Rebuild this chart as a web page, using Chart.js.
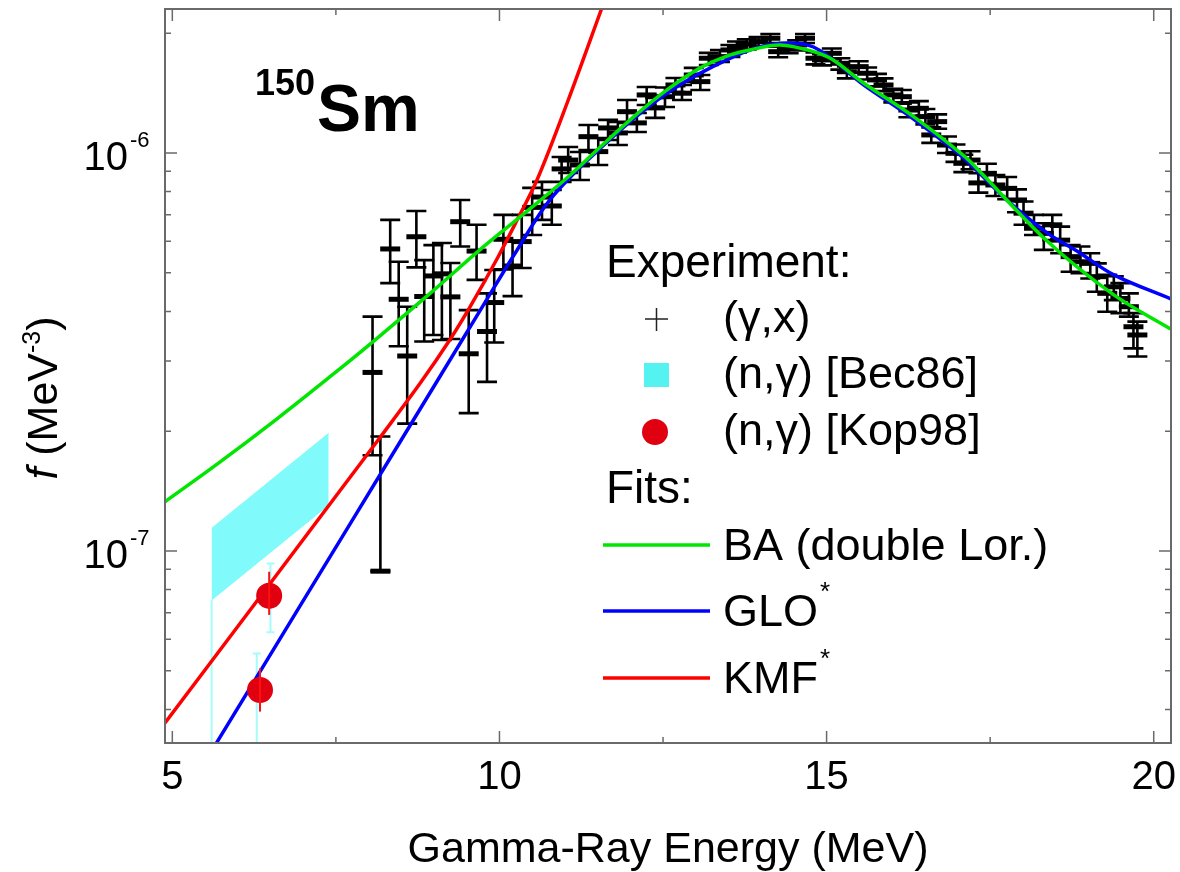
<!DOCTYPE html>
<html>
<head>
<meta charset="utf-8">
<script src="https://cdn.jsdelivr.net/npm/chart.js@4.4.1/dist/chart.umd.min.js"></script>
<style>
  html, body { margin: 0; padding: 0; background: #fff; }
  #wrap { width: 1180px; height: 872px; }
</style>
</head>
<body>
<div id="wrap"><canvas id="chart" width="1180" height="872"></canvas></div>
<script>
// ===== DATOS (f en unidades de 1e-7 MeV^-3) =====
const UNIT = 1e-7;
const xMin = 4.888, xMax = 20.264;
const yMin = 0.3294, yMax = 23.0;
const xTicks = [5, 10, 15, 20];
const xMinorTicks = [7.5, 12.5, 17.5];
const yTickExps = [-7, -6];

// (gamma,x) experiment
const gxE = [8.06, 8.18, 8.33, 8.46, 8.59, 8.73, 8.85, 8.99, 9.12, 9.25,
  9.40, 9.53, 9.65, 9.81, 9.92, 10.06, 10.20, 10.34, 10.50, 10.65,
  10.80, 10.95, 11.05, 11.23, 11.36, 11.51, 11.66, 11.81, 11.95, 12.10,
  12.25, 12.38, 12.53, 12.69, 12.79, 12.97, 13.07, 13.20, 13.37, 13.53,
  13.63, 13.78, 13.96, 14.14, 14.26, 14.42, 14.55, 14.67, 14.83, 14.93,
  15.08, 15.21, 15.31, 15.49, 15.62, 15.77, 15.87, 16.02, 16.15, 16.25,
  16.41, 16.51, 16.60, 16.69, 16.84, 16.97, 17.09, 17.20, 17.32, 17.45,
  17.58, 17.76, 17.91, 18.01, 18.17, 18.32, 18.45, 18.57, 18.73, 18.88,
  19.03, 19.13, 19.29, 19.39, 19.49, 19.62, 19.69, 19.75];
const gxF = [2.81, 0.89, 5.74, 4.29, 3.09, 6.16, 4.36, 4.91, 4.97, 4.35,
  6.72, 3.13, 5.67, 3.56, 4.21, 6.07, 5.20, 5.99, 7.30, 7.75,
  7.36, 9.12, 9.60, 9.33, 10.99, 10.08, 11.56, 11.23, 12.70, 11.90,
  13.99, 12.98, 13.85, 14.82, 14.13, 15.70, 15.11, 17.30, 17.46, 18.15,
  18.50, 18.79, 19.04, 19.42, 17.97, 18.33, 18.68, 19.42, 17.30, 17.13,
  17.80, 16.80, 16.00, 16.48, 15.86, 15.26, 14.82, 13.99, 13.85, 12.82,
  12.95, 12.34, 11.10, 11.99, 10.47, 9.98, 9.42, 9.60, 8.41, 8.89,
  8.31, 8.15, 7.62, 7.06, 6.47, 6.28, 6.60, 6.04, 5.49, 5.33,
  5.28, 4.89, 4.44, 4.61, 4.31, 4.11, 3.66, 3.49];
const gxLo = [1.74, 0.89, 4.71, 3.27, 2.09, 5.16, 3.36, 3.49, 3.39, 3.41,
  5.82, 2.22, 4.80, 2.66, 3.34, 5.10, 4.37, 5.14, 6.22, 6.79,
  6.60, 8.46, 8.91, 8.55, 10.17, 9.33, 10.78, 10.47, 11.90, 11.29,
  13.20, 12.25, 13.05, 14.23, 13.59, 15.08, 14.40, 16.64, 16.93, 17.42,
  17.90, 18.20, 18.50, 18.90, 17.40, 17.80, 18.10, 18.90, 16.70, 16.60,
  17.20, 16.20, 15.40, 15.90, 15.30, 14.70, 14.30, 13.40, 13.30, 12.30,
  12.40, 11.80, 10.60, 11.50, 10.00, 9.50, 8.95, 9.10, 7.95, 8.40,
  7.80, 7.65, 7.10, 6.60, 6.22, 5.71, 6.04, 5.60, 5.03, 4.99,
  4.84, 4.48, 3.99, 4.27, 3.96, 3.88, 3.23, 3.08];
const gxHi = [3.88, 1.94, 6.79, 5.33, 4.11, 7.15, 5.38, 5.87, 5.94, 5.29,
  7.62, 4.03, 6.60, 4.44, 5.08, 6.99, 5.99, 6.99, 8.17, 8.46,
  8.07, 9.77, 10.35, 10.06, 11.76, 10.91, 12.11, 11.97, 13.59, 12.60,
  14.65, 13.75, 14.60, 15.43, 14.82, 16.36, 15.70, 17.84, 18.15, 18.68,
  19.05, 19.30, 19.55, 19.90, 18.50, 18.90, 19.20, 19.90, 17.90, 17.70,
  18.30, 17.30, 16.50, 17.00, 16.40, 15.80, 15.40, 14.50, 14.40, 13.40,
  13.50, 12.90, 11.60, 12.50, 11.00, 10.50, 9.90, 10.10, 8.90, 9.40,
  8.80, 8.70, 8.10, 7.55, 6.99, 6.66, 6.99, 6.53, 5.87, 5.82,
  5.60, 5.28, 4.94, 4.90, 4.71, 4.44, 3.96, 3.77];

// (n,gamma) [Bec86] banda
const becE = [5.60, 7.39];
const becHi = [1.14, 1.976];
const becLo = [0.753, 1.305];

// (n,gamma) [Kop98]
const kopE = [6.34, 6.48];
const kopF = [0.4475, 0.772];
const kopLo = [0.395, 0.691];
const kopHi = [0.507, 0.887];
const kopAltE = [6.29, 6.50];
const kopAltLo = [0.32, 0.625];
const kopAltHi = [0.553, 0.931];

// Ajustes
const baE = [4.888, 5.70, 6.60, 7.41, 8.06, 8.94, 9.70, 10.32, 11.03, 11.54, 12.05, 12.56, 13.07, 13.53, 13.83, 14.29, 14.80, 15.10, 15.57, 16.33, 17.10, 17.35, 18.37, 19.39, 20.26];
const baF = [1.330, 1.660, 2.149, 2.741, 3.350, 4.44, 5.71, 6.92, 8.65, 10.35, 12.32, 14.40, 16.36, 17.63, 18.15, 18.68, 17.97, 17.13, 14.97, 12.34, 9.83, 8.96, 6.01, 4.40, 3.61];
const gloE = [5.60, 6.95, 8.48, 9.71, 10.27, 10.78, 11.54, 12.56, 13.58, 14.20, 14.80, 15.57, 16.33, 17.10, 17.76, 18.37, 18.87, 19.39, 20.26];
const gloF = [0.3145, 0.727, 1.879, 4.033, 5.705, 7.66, 10.27, 14.13, 17.46, 18.79, 18.46, 14.82, 12.17, 9.69, 7.60, 6.30, 5.61, 4.94, 4.30];
const kmfE = [4.888, 6.19, 7.72, 8.18, 8.79, 9.25, 9.55, 9.97, 10.27, 10.58, 11.04, 11.56];
const kmfF = [0.370, 0.711, 1.534, 1.934, 2.643, 3.410, 4.104, 5.447, 6.786, 8.60, 13.43, 23.0];

const FONT = '"Liberation Sans", Arial, Helvetica, sans-serif';
const pts = (xs, ys) => xs.map((x, i) => ({ x: x, y: ys[i] * UNIT }));

function px(chart, v) { return chart.scales.x.getPixelForValue(v); }
function py(chart, v) { return chart.scales.y.getPixelForValue(v * UNIT); }

function clipArea(ctx, a) {
    ctx.beginPath();
    ctx.rect(a.left, a.top, a.right - a.left, a.bottom - a.top);
    ctx.clip();
}

function supText(ctx, base, sup, x, y, size, supSize, rise) {
    // dibuja base + superindice, x = borde izquierdo
    ctx.textAlign = 'left';
    ctx.font = size + 'px ' + FONT;
    ctx.fillText(base, x, y);
    const w = ctx.measureText(base).width;
    ctx.font = supSize + 'px ' + FONT;
    ctx.fillText(sup, x + w + 2, y - rise);
}

const decor = {
    id: 'decor',
    beforeDatasetsDraw(chart) {
        const ctx = chart.ctx, a = chart.chartArea;
        ctx.save();
        clipArea(ctx, a);
        // barras de error (gamma,x)
        ctx.strokeStyle = '#000';
        ctx.lineWidth = 2.6;
        gxE.forEach((e, i) => {
            const x = px(chart, e), yl = py(chart, gxLo[i]), yh = py(chart, gxHi[i]);
            ctx.beginPath();
            ctx.moveTo(x, yl); ctx.lineTo(x, yh);
            ctx.moveTo(x - 10, yl); ctx.lineTo(x + 10, yl);
            ctx.moveTo(x - 10, yh); ctx.lineTo(x + 10, yh);
            ctx.stroke();
        });
        // barras cian (Kop98) y borde de la banda Bec86
        ctx.strokeStyle = '#a6fbfb';
        ctx.lineWidth = 2;
        kopAltE.forEach((e, i) => {
            const x = px(chart, e), yl = py(chart, kopAltLo[i]), yh = py(chart, kopAltHi[i]);
            ctx.beginPath();
            ctx.moveTo(x, yl); ctx.lineTo(x, yh);
            ctx.moveTo(x - 4, yl); ctx.lineTo(x + 4, yl);
            ctx.moveTo(x - 4, yh); ctx.lineTo(x + 4, yh);
            ctx.stroke();
        });
        ctx.beginPath();
        ctx.moveTo(px(chart, becE[0]), py(chart, becLo[0]));
        ctx.lineTo(px(chart, becE[0]), a.bottom);
        ctx.stroke();
        ctx.restore();
    },
    afterDatasetsDraw(chart) {
        const ctx = chart.ctx, a = chart.chartArea;
        ctx.save();
        // barras rojas Kop98
        ctx.save();
        clipArea(ctx, a);
        ctx.strokeStyle = '#ff1010';
        ctx.lineWidth = 2;
        kopE.forEach((e, i) => {
            const x = px(chart, e);
            ctx.beginPath();
            ctx.moveTo(x, py(chart, kopLo[i])); ctx.lineTo(x, py(chart, kopHi[i]));
            ctx.stroke();
        });
        ctx.restore();

        // marco y ticks
        ctx.strokeStyle = '#6a6a6a';
        ctx.lineWidth = 2;
        ctx.strokeRect(a.left, a.top, a.right - a.left, a.bottom - a.top);
        ctx.lineWidth = 1.5;
        ctx.beginPath();
        xTicks.concat(xMinorTicks).forEach(t => {
            const len = xTicks.includes(t) ? 12 : 6;
            const x = px(chart, t);
            ctx.moveTo(x, a.bottom); ctx.lineTo(x, a.bottom - len);
            ctx.moveTo(x, a.top); ctx.lineTo(x, a.top + len);
        });
        for (let d = -9; d <= -5; d++) {
            for (let m = 1; m <= 9; m++) {
                const v = m * Math.pow(10, d);
                if (v < yMin * UNIT || v > yMax * UNIT) continue;
                const y = chart.scales.y.getPixelForValue(v);
                const len = m === 1 ? 12 : 6;
                ctx.moveTo(a.left, y); ctx.lineTo(a.left + len, y);
                ctx.moveTo(a.right, y); ctx.lineTo(a.right - len, y);
            }
        }
        ctx.stroke();

        // etiquetas de ticks
        ctx.fillStyle = '#000';
        ctx.textBaseline = 'alphabetic';
        ctx.font = '40px ' + FONT;
        ctx.textAlign = 'center';
        xTicks.forEach(t => ctx.fillText(String(t), px(chart, t), a.bottom + 46));
        yTickExps.forEach(ex => {
            const y = chart.scales.y.getPixelForValue(Math.pow(10, ex));
            ctx.font = '40px ' + FONT;
            ctx.textAlign = 'right';
            ctx.fillText('10', 128, y + 17);
            ctx.font = '22px ' + FONT;
            ctx.textAlign = 'left';
            ctx.fillText(String(ex), 130, y - 6);
        });

        // titulos de ejes
        ctx.font = '43px ' + FONT;
        ctx.textAlign = 'center';
        ctx.fillText('Gamma-Ray Energy (MeV)', (a.left + a.right) / 2, 862);
        ctx.save();
        ctx.translate(57, 398);
        ctx.rotate(-Math.PI / 2);
        const parts = [
            { t: 'f', f: 'italic 43px ' + FONT, r: 0 },
            { t: ' (MeV', f: '43px ' + FONT, r: 0 },
            { t: '-3', f: '25px ' + FONT, r: 17 },
            { t: ')', f: '43px ' + FONT, r: 0 }
        ];
        let total = 0;
        parts.forEach(p => { ctx.font = p.f; p.w = ctx.measureText(p.t).width; total += p.w; });
        let cx = -total / 2;
        ctx.textAlign = 'left';
        parts.forEach(p => { ctx.font = p.f; ctx.fillText(p.t, cx, -p.r); cx += p.w; });
        ctx.restore();

        // nucleo
        ctx.textAlign = 'left';
        ctx.font = 'bold 36px ' + FONT;
        ctx.fillText('150', 255, 95);
        ctx.font = 'bold 66px ' + FONT;
        ctx.fillText('Sm', 317, 131);

        // leyenda
        ctx.font = '46px ' + FONT;
        ctx.fillText('Experiment:', 606, 277);
        ctx.fillText('Fits:', 606, 503);
        ctx.strokeStyle = '#222';
        ctx.lineWidth = 1.5;
        ctx.beginPath();
        ctx.moveTo(645, 319); ctx.lineTo(668, 319);
        ctx.moveTo(656.5, 308); ctx.lineTo(656.5, 331);
        ctx.stroke();
        ctx.font = '45px ' + FONT;
        ctx.fillText('(\u03b3,x)', 723, 332);
        ctx.fillStyle = '#55f2f2';
        ctx.fillRect(644, 363, 25, 24);
        ctx.fillStyle = '#000';
        ctx.fillText('(n,\u03b3) [Bec86]', 723, 388);
        ctx.fillStyle = '#e0000f';
        ctx.beginPath();
        ctx.arc(655, 432, 13, 0, Math.PI * 2);
        ctx.fill();
        ctx.fillStyle = '#000';
        ctx.fillText('(n,\u03b3) [Kop98]', 723, 445);

        const fits = [
            { c: '#00e600', t: 'BA (double Lor.)', y: 545, s: '' },
            { c: '#0000ff', t: 'GLO', y: 611, s: '*' },
            { c: '#ff0000', t: 'KMF', y: 678, s: '*' }
        ];
        fits.forEach(f => {
            ctx.strokeStyle = f.c;
            ctx.lineWidth = 3.5;
            ctx.beginPath();
            ctx.moveTo(603, f.y); ctx.lineTo(710, f.y);
            ctx.stroke();
            ctx.fillStyle = '#000';
            if (f.s) supText(ctx, f.t, f.s, 723, f.y + 15, 45, 26, 26);
            else { ctx.font = '45px ' + FONT; ctx.fillText(f.t, 723, f.y + 15); }
        });
        ctx.restore();
    }
};

const curve = (label, xs, ys, color, order) => ({
    label: label,
    data: pts(xs, ys),
    showLine: true,
    borderColor: color,
    borderWidth: 3.5,
    pointRadius: 0,
    tension: 0.35,
    fill: false,
    order: order
});

const hiddenAxis = {
    bounds: 'data',
    ticks: { display: false },
    grid: { display: false, drawTicks: false },
    border: { display: false },
    title: { display: false }
};

const chart = new Chart(document.getElementById('chart').getContext('2d'), {
    type: 'scatter',
    data: {
        datasets: [
            { label: '(n,γ) [Kop98]', data: pts(kopE, kopF), pointRadius: 13, pointStyle: 'circle',
              backgroundColor: '#e0000f', borderWidth: 0, order: 0 },
            curve('BA (double Lor.)', baE, baF, '#00e600', 1),
            curve('KMF*', kmfE, kmfF, '#ff0000', 2),
            curve('GLO*', gloE, gloF, '#0000ff', 3),
            { label: '(γ,x)', data: pts(gxE, gxF), pointStyle: 'line', pointRadius: 10,
              borderColor: '#000', borderWidth: 5, order: 4 },
            { label: 'Bec86 hi', data: pts(becE, becHi), showLine: true, pointRadius: 0,
              borderColor: '#80fafa', borderWidth: 1, backgroundColor: '#80fafa', fill: '+1', order: 5 },
            { label: 'Bec86 lo', data: pts(becE, becLo), showLine: true, pointRadius: 0,
              borderColor: '#80fafa', borderWidth: 1, fill: false, order: 6 }
        ]
    },
    options: {
        responsive: false,
        animation: false,
        events: [],
        layout: { autoPadding: false, padding: { left: 0, right: 9, top: 9, bottom: 0 } },
        plugins: { legend: { display: false }, tooltip: { enabled: false } },
        scales: {
            x: Object.assign({ type: 'linear', min: xMin, max: xMax,
                afterFit: s => { s.height = 129; } }, hiddenAxis),
            y: Object.assign({ type: 'logarithmic', min: yMin * UNIT, max: yMax * UNIT,
                afterFit: s => { s.width = 165; } }, hiddenAxis)
        }
    },
    plugins: [decor]
});
</script>
</body>
</html>
